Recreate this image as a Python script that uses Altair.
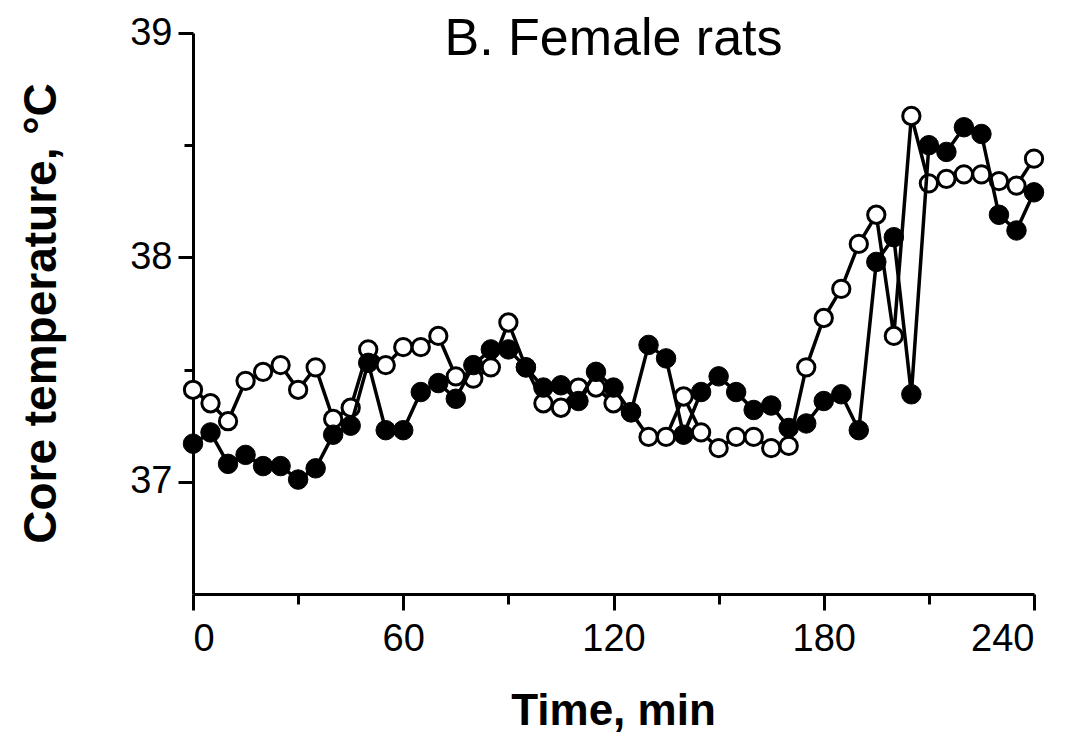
import altair as alt
import pandas as pd

# Time (min), sampled every 5 min
time_min = list(range(0, 245, 5))

# Filled-circle series, core temperature (°C)
filled_temp = [37.17, 37.22, 37.08, 37.12, 37.07, 37.07, 37.01, 37.06, 37.21, 37.25,
               37.53, 37.23, 37.23, 37.40, 37.44, 37.37, 37.52, 37.59, 37.59, 37.51,
               37.42, 37.43, 37.36, 37.49, 37.42, 37.31, 37.61, 37.55, 37.21, 37.40,
               37.47, 37.40, 37.32, 37.34, 37.24, 37.26, 37.36, 37.39, 37.23, 37.98,
               38.09, 37.39, 38.50, 38.47, 38.58, 38.55, 38.19, 38.12, 38.29]

# Open-circle series, core temperature (°C)
open_temp = [37.41, 37.35, 37.27, 37.45, 37.49, 37.52, 37.41, 37.51, 37.28, 37.33,
             37.59, 37.52, 37.60, 37.60, 37.65, 37.47, 37.46, 37.51, 37.71, 37.51,
             37.35, 37.33, 37.42, 37.42, 37.35, 37.31, 37.20, 37.20, 37.38, 37.22,
             37.15, 37.20, 37.20, 37.15, 37.16, 37.51, 37.73, 37.86, 38.06, 38.19,
             37.65, 38.63, 38.33, 38.35, 38.37, 38.37, 38.34, 38.32, 38.44]

x_ticks = list(range(0, 241, 30))
y_ticks = [37, 37.5, 38, 38.5, 39]

FONT = "Liberation Sans"

df_open = pd.DataFrame({"time": time_min, "temp": open_temp})
df_filled = pd.DataFrame({"time": time_min, "temp": filled_temp})

x_enc = alt.X(
    "time:Q",
    scale=alt.Scale(domain=[0, 240], nice=False, zero=False),
    axis=alt.Axis(
        values=x_ticks,
        grid=False,
        labelExpr="datum.value % 60 === 0 ? format(datum.value, 'd') : ''",
        tickSize={"condition": {"test": "datum.value % 60 === 0", "value": 16}, "value": 10},
        labelPadding=10,
        labelFontSize=38,
        labelFont=FONT,
        title="Time, min",
        titleFont=FONT,
        titleFontSize=44,
        titleFontWeight="bold",
        titleX=420,
        titleY=117,
        titleAlign="center",
        titleBaseline="middle",
    ),
)
y_enc = alt.Y(
    "temp:Q",
    scale=alt.Scale(domain=[36.5, 39], nice=False, zero=False),
    axis=alt.Axis(
        values=y_ticks,
        grid=False,
        labelExpr="datum.value % 1 === 0 ? format(datum.value, 'd') : ''",
        tickSize={"condition": {"test": "datum.value % 1 === 0", "value": 15}, "value": 9},
        labelPadding=6,
        labelFontSize=38,
        labelFont=FONT,
        title="Core temperature, °C",
        titleFont=FONT,
        titleFontSize=46,
        titleFontWeight="bold",
        titleAngle=-90,
        titleX=-152,
        titleY=280,
        titleAlign="center",
        titleBaseline="middle",
    ),
)

open_line = alt.Chart(df_open).mark_line(color="black", strokeWidth=3.5).encode(x=x_enc, y=y_enc)
open_pts = alt.Chart(df_open).mark_point(
    shape="circle", filled=True, fill="white", stroke="black", strokeWidth=3, size=300, opacity=1
).encode(x=x_enc, y=y_enc)
filled_line = alt.Chart(df_filled).mark_line(color="black", strokeWidth=3.5).encode(x=x_enc, y=y_enc)
filled_pts = alt.Chart(df_filled).mark_point(
    shape="circle", filled=True, fill="black", stroke="black", strokeWidth=1, size=380, opacity=1
).encode(x=x_enc, y=y_enc)

chart = (
    alt.layer(open_line, open_pts, filled_line, filled_pts)
    .properties(
        width=841,
        height=561,
        autosize=alt.AutoSizeParams(type="none"),
        padding={"left": 185, "top": 25, "right": 20, "bottom": 144},
        title=alt.TitleParams(
            "B. Female rats",
            font=FONT,
            fontSize=52,
            fontWeight="normal",
            color="black",
            anchor="middle",
            frame="group",
            offset=0,
            baseline="alphabetic",
            dy=93,
        ),
    )
    .configure(background="white")
    .configure_view(stroke=None)
    .configure_axis(
        grid=False,
        domainColor="black",
        domainWidth=3,
        tickColor="black",
        tickWidth=3,
        labelColor="black",
        titleColor="black",
    )
)

chart.save("out.html", embed_options={"renderer": "svg", "actions": False})
